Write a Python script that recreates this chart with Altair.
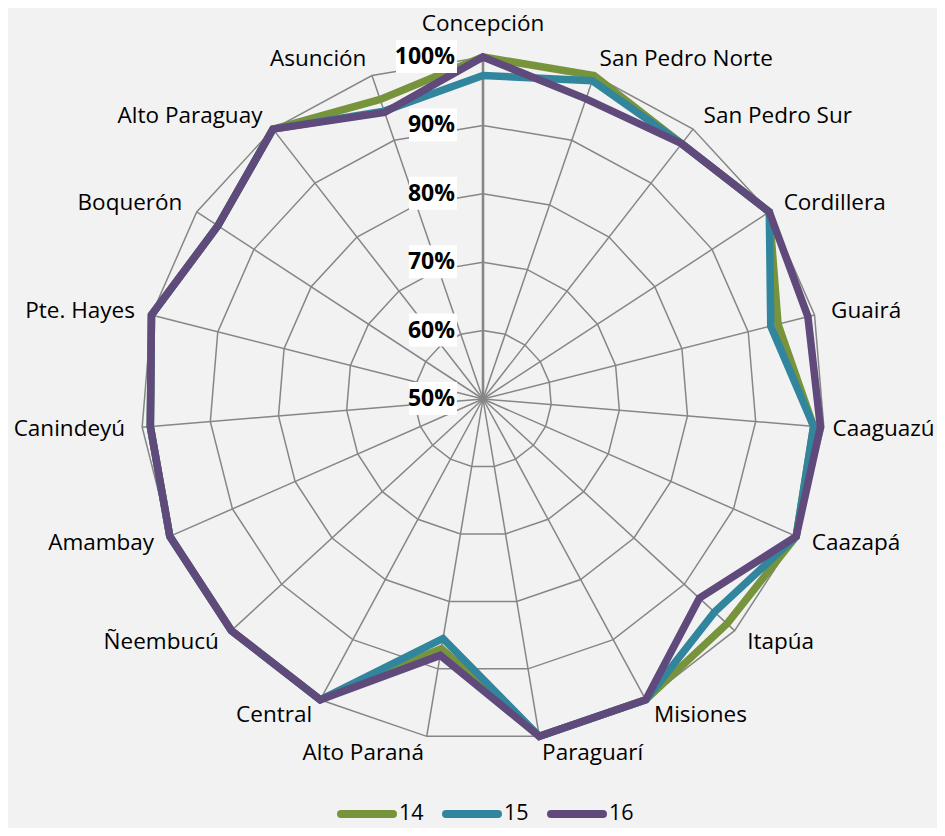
import altair as alt
import pandas as pd

# ---------------- data ----------------
categories = ["Concepción", "San Pedro Norte", "San Pedro Sur", "Cordillera", "Guairá",
              "Caaguazú", "Caazapá", "Itapúa", "Misiones", "Paraguarí", "Alto Paraná",
              "Central", "Ñeembucú", "Amambay", "Canindeyú", "Pte. Hayes", "Boquerón",
              "Alto Paraguay", "Asunción"]
series = ["14", "15", "16"]
v14 = [100, 100, 97.3, 100, 94.5, 98.5, 100, 98.5, 100, 100, 87.0, 100, 100, 100, 98.8, 100, 96.3, 100, 96.3]
v15 = [97.3, 99.2, 97.3, 100, 93.4, 98.5, 100, 96.0, 100, 100, 85.5, 100, 100, 100, 98.8, 100, 96.3, 100, 94.5]
v16 = [100, 96.4, 97.3, 100, 99.0, 99.5, 100, 93.0, 100, 100, 88.0, 100, 100, 100, 98.8, 100, 96.3, 100, 94.3]
grid_levels = [60, 70, 80, 90, 100]
tick_values = [50, 60, 70, 80, 90, 100]
tick_labels = ["50%", "60%", "70%", "80%", "90%", "100%"]

RMIN, RMAX = 50, 100
N = len(categories)

rows = []
for s, vals in zip(series, [v14, v15, v16]):
    for i, (c, v) in enumerate(zip(categories, vals)):
        rows.append({"cat": c, "idx": i, "series": s, "value": v})
df = pd.DataFrame(rows)
grid_df = pd.DataFrame([{"idx": i, "level": lv} for lv in grid_levels for i in range(N)])
cat_df = pd.DataFrame({"cat": categories, "idx": list(range(N))})
tick_df = pd.DataFrame({"level": tick_values, "label": tick_labels})
legend_df = pd.DataFrame({"series": series, "k": list(range(len(series)))})

# ---------------- style ----------------
W, H = 929, 820
R = 342.0
CX, CY = 475.0, 391.0
XMIN, XMAX = -CX / R, (W - CX) / R
YMIN, YMAX = -(H - CY) / R, CY / R
GRID = "#868686"
COLORS = ["#77933C", "#31859C", "#604A7B"]
FONT = "Open Sans"
LEG_X0, LEG_STEP, LEG_LEN, LEG_Y = 333, 105, 52, 806

xs = alt.Scale(domain=[XMIN, XMAX], nice=False, zero=False)
ys = alt.Scale(domain=[YMIN, YMAX], nice=False, zero=False)
color_scale = alt.Scale(domain=series, range=COLORS)
ANG = f"datum.idx * 2 * PI / {N}"
RAD = f"(datum.level - {RMIN}) / ({RMAX} - {RMIN})"


def X(f):
    return alt.X(f, scale=xs, axis=None)


def Y(f):
    return alt.Y(f, scale=ys, axis=None)


rings = alt.Chart(grid_df).transform_calculate(
    a=ANG, r=RAD
).transform_calculate(
    x="datum.r * sin(datum.a)", y="datum.r * cos(datum.a)"
).mark_line(interpolate="linear-closed", stroke=GRID, strokeWidth=1.5).encode(
    x=X("x:Q"), y=Y("y:Q"), detail="level:N", order="idx:Q"
)

spoke_base = alt.Chart(cat_df).transform_calculate(
    a=ANG
).transform_calculate(
    x0="0", y0="0", x="sin(datum.a)", y="cos(datum.a)"
)
spokes = spoke_base.mark_rule(stroke=GRID, strokeWidth=1.5).encode(
    x=X("x0:Q"), y=Y("y0:Q"), x2="x:Q", y2="y:Q"
)
axis_spoke = spoke_base.transform_filter("datum.idx == 0").mark_rule(
    stroke=GRID, strokeWidth=2.6
).encode(x=X("x0:Q"), y=Y("y0:Q"), x2="x:Q", y2="y:Q")

lines = alt.Chart(df).transform_calculate(
    a=ANG, r=f"(datum.value - {RMIN}) / ({RMAX} - {RMIN})"
).transform_calculate(
    x="datum.r * sin(datum.a)", y="datum.r * cos(datum.a)"
).mark_line(interpolate="linear-closed", strokeWidth=7.5, strokeJoin="miter").encode(
    x=X("x:Q"), y=Y("y:Q"),
    color=alt.Color("series:N", scale=color_scale, legend=None),
    order="idx:Q",
    detail="series:N",
)

tick_base = alt.Chart(tick_df).transform_calculate(
    x0="0", y=RAD
)
tick_box_wide = tick_base.transform_filter("datum.level == 100").mark_rect(
    color="white", xOffset=-87, x2Offset=-26, yOffset=-17, y2Offset=16
).encode(x=X("x0:Q"), x2="x0:Q", y=Y("y:Q"), y2="y:Q")
tick_box = tick_base.transform_filter("datum.level < 100").mark_rect(
    color="white", xOffset=-74, x2Offset=-26, yOffset=-17, y2Offset=16
).encode(x=X("x0:Q"), x2="x0:Q", y=Y("y:Q"), y2="y:Q")
tick_text = tick_base.mark_text(
    align="right", baseline="middle", dx=-28, dy=0, font=FONT, fontSize=23,
    fontWeight="bold", color="black"
).encode(x=X("x0:Q"), y=Y("y:Q"), text="label:N")

lab_base = alt.Chart(cat_df).transform_calculate(
    a=ANG
).transform_calculate(
    s="sin(datum.a)",
    lx="min(1.05 * sin(datum.a), 1.022)",
    ly="1.05 * cos(datum.a) + (abs(sin(datum.a)) < 0.05 ? 0.047 : 0)",
)
lab_style = dict(baseline="middle", font=FONT, fontSize=22.5, color="black")
lab_right = lab_base.transform_filter("datum.s > 0.05").mark_text(align="left", **lab_style).encode(
    x=X("lx:Q"), y=Y("ly:Q"), text="cat:N")
lab_left = lab_base.transform_filter("datum.s < -0.05").mark_text(align="right", **lab_style).encode(
    x=X("lx:Q"), y=Y("ly:Q"), text="cat:N")
lab_center = lab_base.transform_filter("abs(datum.s) <= 0.05").mark_text(align="center", **lab_style).encode(
    x=X("lx:Q"), y=Y("ly:Q"), text="cat:N")

# legend drawn as its own layer (pixel positions from the entry index)
leg_base = alt.Chart(legend_df).transform_calculate(
    lx0=f"{LEG_X0} + datum.k * {LEG_STEP}",
    lx1=f"{LEG_X0} + datum.k * {LEG_STEP} + {LEG_LEN}",
    tx=f"{LEG_X0} + datum.k * {LEG_STEP} + {LEG_LEN} + 6",
)
leg_sym = leg_base.mark_rule(strokeWidth=8, strokeCap="round").encode(
    x=alt.X("lx0:Q", scale=None, axis=None), x2="lx1:Q",
    y=alt.value(LEG_Y),
    color=alt.Color("series:N", scale=color_scale, legend=None),
)
leg_txt = leg_base.mark_text(align="left", baseline="middle", font=FONT, fontSize=21.5,
                             color="black").encode(
    x=alt.X("tx:Q", scale=None, axis=None), y=alt.value(LEG_Y), text="series:N"
)

chart = alt.layer(
    rings, spokes, axis_spoke, lines, tick_box_wide, tick_box, tick_text,
    lab_right, lab_left, lab_center, leg_sym, leg_txt
).resolve_scale(
    x="independent", y="independent"
).properties(
    width=W, height=H, autosize=alt.AutoSizeParams(type="none"), padding=0,
    background="#F2F2F2"
).configure_view(stroke=None)

chart.save("out.html", embed_options={"renderer": "svg", "actions": False})
